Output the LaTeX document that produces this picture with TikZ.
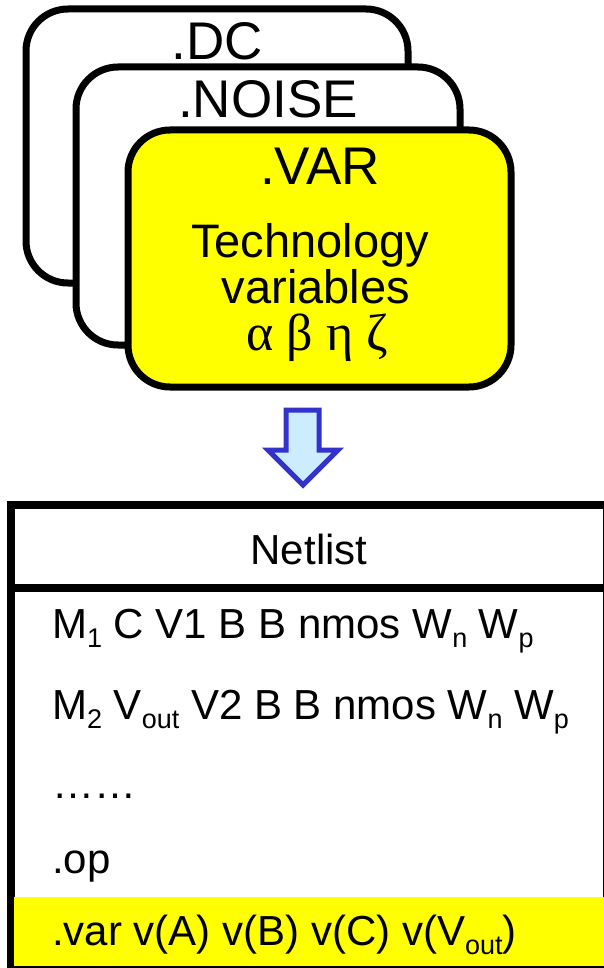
\documentclass[tikz,border=0pt]{standalone}
\usepackage{fontspec}
\setmainfont{Liberation Sans}
\newfontfamily\grkfont{Liberation Serif}
\definecolor{ayellow}{RGB}{255,255,0}
\definecolor{arrblue}{RGB}{51,51,204}
\definecolor{arrfill}{RGB}{204,236,255}
\newcommand{\sbs}[1]{\raisebox{-9pt}{\fontsize{27}{27}\selectfont #1}}
\begin{document}
\begin{tikzpicture}[x=1pt,y=-1pt,
  card/.style={draw=black,line width=7pt,rounded corners=42pt,inner sep=0pt,outer sep=0pt},
  cardtitle/.style={anchor=base,inner sep=0pt,font=\fontsize{53}{60}\selectfont},
  bodytext/.style={anchor=base,inner sep=0pt,font=\fontsize{47}{52}\selectfont},
  rowtext/.style={anchor=base west,inner sep=0pt,font=\fontsize{42}{48}\selectfont},
  arrowshape/.style={draw=arrblue,fill=arrfill,line width=5pt,miter limit=10}]
\useasboundingbox (0,0) rectangle (604,968);
% cards
\node[card,fill=white,minimum width=382pt,minimum height=274pt] (dc) at (217,146) {};
\node[card,fill=white,minimum width=384pt,minimum height=278pt] (noise) at (268,206) {};
\node[card,fill=ayellow,minimum width=383pt,minimum height=257pt] (var) at (319.5,258.5) {};
\node[cardtitle] (tdc) at (217,60) {.DC};
\node[cardtitle] (tnoise) at (268,118) {.NOISE};
\node[cardtitle] (tvar) at (320,185) {.VAR};
\node[bodytext] (tech) at (310,257) {Technology};
\node[bodytext] (vars) at (316,303) {variables};
\node[anchor=base,inner sep=0pt,font=\grkfont\fontsize{52}{60}\selectfont] (greek) at (317,350) {α β η ζ};
% arrow
\draw[arrowshape] (286,410) -- (319,410) -- (319,450) -- (338,450) -- (303,485) -- (268,450) -- (286,450) -- cycle;
% table
\draw[line width=8pt] (11,505) rectangle (607,970);
\draw[line width=8pt] (11,588) -- (607,588);
\fill[ayellow] (14,897) rectangle (604,966);
\node[anchor=base,inner sep=0pt,font=\fontsize{42}{48}\selectfont] (head) at (309,564) {Netlist};
\node[rowtext] (r1) at (52,638) {M\sbs{1} C V1 B B nmos W\sbs{n} W\sbs{p}};
\node[rowtext] (r2) at (52,719) {M\sbs{2} V\sbs{out} V2 B B nmos W\sbs{n} W\sbs{p}};
\node[rowtext] (r3) at (52,798) {……};
\node[rowtext] (r4) at (52,873) {.op};
\node[rowtext] (r5) at (52,945) {.var v(A) v(B) v(C) v(V\sbs{out})};
\end{tikzpicture}
\end{document}
